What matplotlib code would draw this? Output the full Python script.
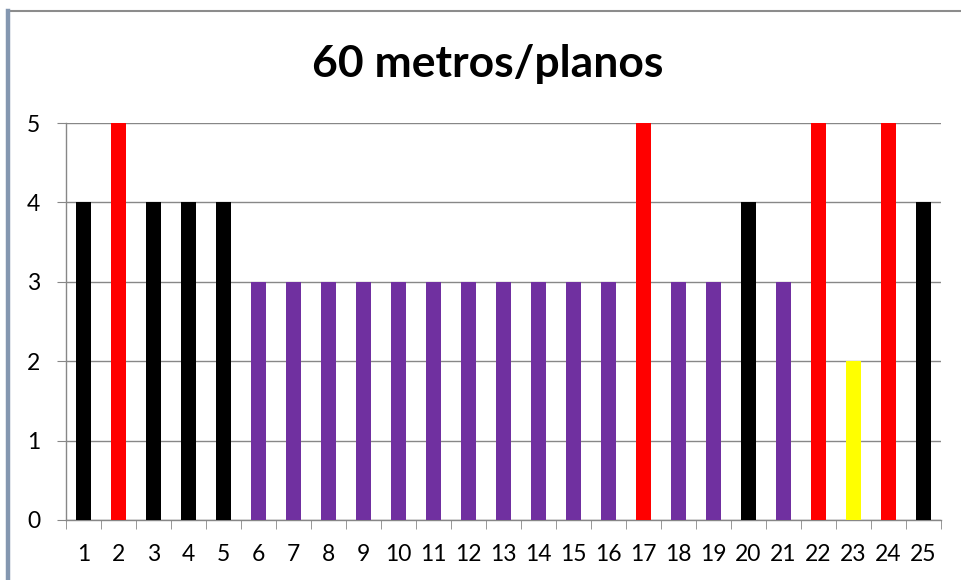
import matplotlib.pyplot as plt
from matplotlib.lines import Line2D
from matplotlib.ticker import MultipleLocator, FixedLocator

plt.rcParams['font.family'] = ['Lato', 'DejaVu Sans']

# results per athlete, 60 m sprint
athletes = list(range(1, 26))
marks = [4, 5, 4, 4, 4, 3, 3, 3, 3, 3, 3, 3, 3, 3, 3, 3, 5, 3, 3, 4, 3, 5, 2, 5, 4]
bar_colors = ['#000000', '#FF0000', '#000000', '#000000', '#000000',
              '#7030A0', '#7030A0', '#7030A0', '#7030A0', '#7030A0',
              '#7030A0', '#7030A0', '#7030A0', '#7030A0', '#7030A0',
              '#7030A0', '#FF0000', '#7030A0', '#7030A0', '#000000',
              '#7030A0', '#FF0000', '#FFFF00', '#FF0000', '#000000']

W, H = 962, 580
fig = plt.figure(figsize=(W / 100, H / 100), dpi=100)
ax = fig.add_axes([66 / W, (H - 520) / H, (941 - 66) / W, (520 - 123) / H])

grid_c = '#878787'
ax.bar(athletes, marks, width=0.42, color=bar_colors, zorder=3)

ax.set_xlim(0.5, 25.5)
ax.set_ylim(0, 5)
ax.yaxis.set_major_locator(MultipleLocator(1))
ax.xaxis.set_major_locator(FixedLocator(athletes))
ax.xaxis.set_minor_locator(FixedLocator([i + 0.5 for i in range(0, 26)]))
ax.grid(axis='y', color=grid_c, linewidth=1.0, zorder=0)

for side in ('top', 'right'):
    ax.spines[side].set_visible(False)
for side in ('left', 'bottom'):
    ax.spines[side].set_color(grid_c)
    ax.spines[side].set_linewidth(1.0)

ax.tick_params(axis='y', length=6.5, color=grid_c, labelsize=16.5, pad=12)
ax.tick_params(axis='x', which='major', length=0, labelsize=16.5, pad=17)
ax.tick_params(axis='x', which='minor', length=6.5, color=grid_c)

fig.text(488 / W, 1 - 77 / H, '60 metros/planos', ha='center', va='baseline',
         fontsize=32, fontweight='bold')

# chart frame: thin top rule, heavier left rule
fig.add_artist(Line2D([10 / W, 1], [1 - 11 / H, 1 - 11 / H], color='#8c8c8c', linewidth=1.5))
fig.add_artist(Line2D([8 / W, 8 / W], [0, 1 - 11 / H], color='#8497B0', linewidth=3.2))

fig.savefig('out.png', dpi=100)
